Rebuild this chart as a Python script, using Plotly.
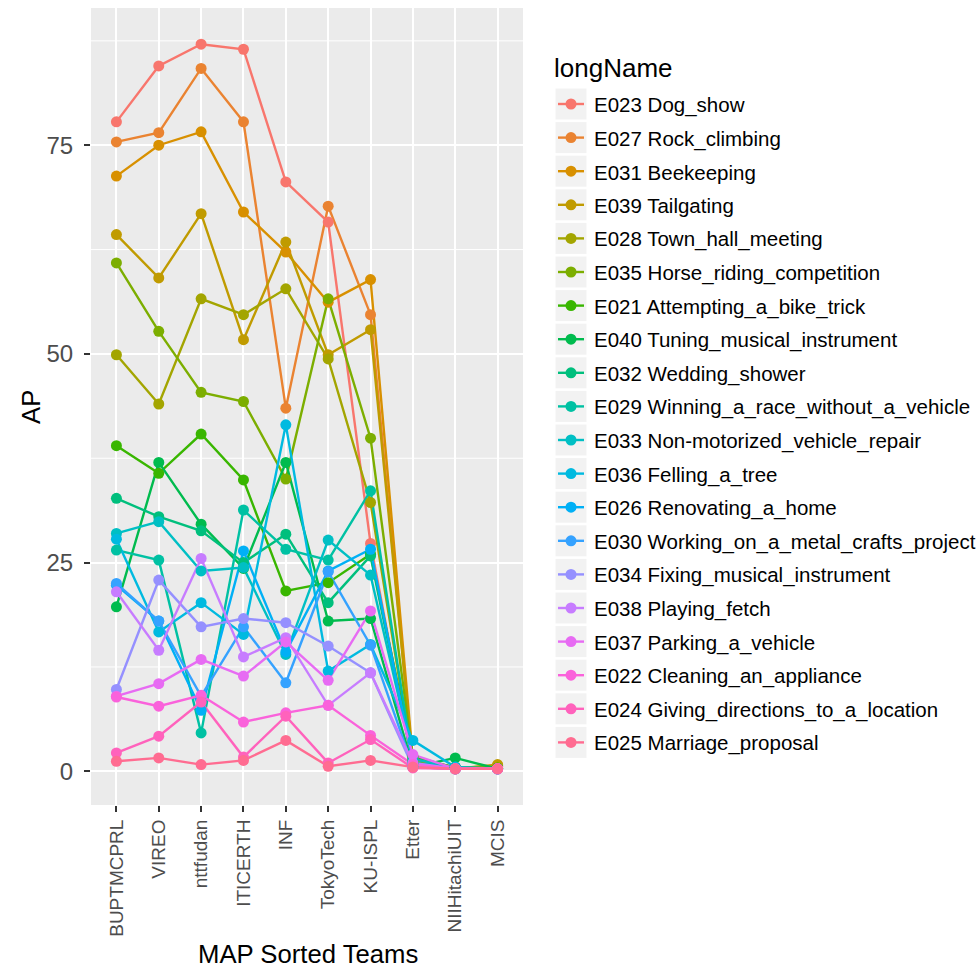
import plotly.graph_objects as go

teams = ["BUPTMCPRL", "VIREO", "nttfudan", "ITICERTH", "INF",
         "TokyoTech", "KU-ISPL", "Etter", "NIIHitachiUIT", "MCIS"]

event_names = [
    "E023 Dog_show", "E027 Rock_climbing", "E031 Beekeeping", "E039 Tailgating",
    "E028 Town_hall_meeting", "E035 Horse_riding_competition",
    "E021 Attempting_a_bike_trick", "E040 Tuning_musical_instrument",
    "E032 Wedding_shower", "E029 Winning_a_race_without_a_vehicle",
    "E033 Non-motorized_vehicle_repair", "E036 Felling_a_tree",
    "E026 Renovating_a_home", "E030 Working_on_a_metal_crafts_project",
    "E034 Fixing_musical_instrument", "E038 Playing_fetch",
    "E037 Parking_a_vehicle", "E022 Cleaning_an_appliance",
    "E024 Giving_directions_to_a_location", "E025 Marriage_proposal",
]

# AP per team, one list per event (team order as in `teams`)
ap_e023 = [77.8, 84.5, 87.1, 86.5, 70.6, 65.8, 27.3, 0.5, 0.3, 0.3]
ap_e027 = [75.4, 76.5, 84.2, 77.8, 43.5, 67.7, 54.7, 1.0, 0.3, 0.7]
ap_e031 = [71.3, 75.0, 76.6, 67.0, 62.2, 56.2, 58.9, 1.5, 0.4, 0.6]
ap_e039 = [64.3, 59.1, 66.8, 51.7, 63.4, 49.9, 52.9, 1.2, 0.3, 0.8]
ap_e028 = [49.9, 44.0, 56.6, 54.7, 57.8, 49.4, 32.2, 1.0, 0.3, 0.4]
ap_e035 = [60.9, 52.7, 45.4, 44.3, 35.0, 56.6, 39.9, 1.5, 0.5, 0.4]
ap_e021 = [39.0, 35.7, 40.4, 34.9, 21.6, 22.6, 26.0, 1.8, 0.4, 0.4]
ap_e040 = [19.7, 37.0, 29.6, 24.3, 37.0, 18.0, 18.3, 0.5, 1.6, 0.3]
ap_e032 = [32.7, 30.5, 28.8, 25.0, 28.4, 20.2, 25.8, 1.0, 0.5, 0.3]
ap_e029 = [26.5, 25.3, 4.6, 31.3, 26.6, 25.3, 33.6, 1.0, 0.4, 0.3]
ap_e033 = [28.5, 29.9, 24.0, 24.4, 14.0, 27.7, 23.5, 1.5, 0.4, 0.3]
ap_e036 = [27.8, 16.7, 20.2, 16.4, 41.5, 12.0, 15.2, 3.7, 0.5, 0.3]
ap_e026 = [22.3, 18.0, 7.3, 26.4, 14.3, 24.0, 26.6, 1.0, 0.3, 0.3]
ap_e030 = [22.5, 18.0, 9.0, 17.3, 10.6, 23.9, 15.1, 0.5, 0.3, 0.3]
ap_e034 = [9.8, 22.9, 17.3, 18.3, 17.8, 15.0, 11.8, 0.5, 0.3, 0.3]
ap_e038 = [21.5, 14.5, 25.5, 13.7, 16.0, 7.9, 11.8, 1.0, 0.3, 0.3]
ap_e037 = [9.0, 10.5, 13.4, 11.4, 15.5, 10.9, 19.2, 2.0, 0.3, 0.3]
ap_e022 = [8.9, 7.8, 9.1, 5.9, 7.0, 7.9, 4.3, 0.8, 0.3, 0.3]
ap_e024 = [2.2, 4.2, 8.3, 1.7, 6.6, 1.0, 3.8, 0.4, 0.3, 0.3]
ap_e025 = [1.2, 1.6, 0.8, 1.3, 3.7, 0.6, 1.3, 0.5, 0.3, 0.3]

series = [ap_e023, ap_e027, ap_e031, ap_e039, ap_e028, ap_e035, ap_e021,
          ap_e040, ap_e032, ap_e029, ap_e033, ap_e036, ap_e026, ap_e030,
          ap_e034, ap_e038, ap_e037, ap_e022, ap_e024, ap_e025]

colors = ["#F8766D", "#EA8331", "#D89000", "#C09B00", "#A3A500", "#7CAE00",
          "#39B600", "#00BB4E", "#00BF7D", "#00C1A3", "#00BFC4", "#00BAE0",
          "#00B0F6", "#35A2FF", "#9590FF", "#C77CFF", "#E76BF3", "#FA62DB",
          "#FF62BC", "#FF6C91"]

FONT = "Liberation Sans, Arial, Helvetica, sans-serif"
W, H = 979, 967
PL, PR, PT, PB = 91, 523, 8, 805  # panel box in pixels

fig = go.Figure()

# all lines first, then all points on top
for name, vals, col in zip(event_names, series, colors):
    fig.add_trace(go.Scatter(x=teams, y=vals, mode="lines", name=name,
                             line=dict(color=col, width=2.4),
                             showlegend=False, hoverinfo="skip"))
for name, vals, col in zip(event_names, series, colors):
    fig.add_trace(go.Scatter(x=teams, y=vals, mode="markers", name=name,
                             marker=dict(color=col, size=11),
                             showlegend=False))

# y range with 5% padding like ggplot's continuous scale
all_vals = [v for s in series for v in s]
lo, hi = min(all_vals), max(all_vals)
pad = (hi - lo) * 0.05
yr = [lo - pad, hi + pad]

# minor grid
shapes = []
for mv in [12.5, 37.5, 62.5, 87.5]:
    shapes.append(dict(type="line", xref="paper", yref="y", x0=0, x1=1,
                       y0=mv, y1=mv, line=dict(color="white", width=1),
                       layer="below"))


def px_x(px):
    return (px - PL) / (PR - PL)


def px_y(py):
    return (PB - py) / (PB - PT)


# legend drawn by hand: title, grey key boxes, line + dot, label
annotations = [
    dict(text="longName", x=px_x(552), y=px_y(68), xref="paper", yref="paper",
         xanchor="left", yanchor="middle", showarrow=False,
         font=dict(family=FONT, size=26, color="black")),
]
row0, step = 104, 33.6
for i, (name, col) in enumerate(zip(event_names, colors)):
    cy = row0 + i * step
    shapes.append(dict(type="rect", xref="paper", yref="paper",
                       x0=px_x(555.5), x1=px_x(586.5),
                       y0=px_y(cy - 15.5), y1=px_y(cy + 15.5),
                       fillcolor="#F2F2F2", line=dict(width=0)))
    shapes.append(dict(type="line", xref="paper", yref="paper",
                       x0=px_x(558), x1=px_x(584), y0=px_y(cy), y1=px_y(cy),
                       line=dict(color=col, width=2.4)))
    shapes.append(dict(type="circle", xref="paper", yref="paper",
                       x0=px_x(571 - 5.5), x1=px_x(571 + 5.5),
                       y0=px_y(cy - 5.5), y1=px_y(cy + 5.5),
                       fillcolor=col, line=dict(width=0)))
    annotations.append(dict(text=name, x=px_x(592), y=px_y(cy + 1),
                            xref="paper", yref="paper", xanchor="left",
                            yanchor="middle", showarrow=False,
                            font=dict(family=FONT, size=20.5, color="black")))

# axis titles
annotations.append(dict(text="MAP Sorted Teams", x=px_x(308), y=px_y(954),
                        xref="paper", yref="paper", xanchor="center",
                        yanchor="middle", showarrow=False,
                        font=dict(family=FONT, size=25.7, color="black")))
annotations.append(dict(text="AP", x=px_x(31), y=px_y(407), xref="paper",
                        yref="paper", xanchor="center", yanchor="middle",
                        textangle=-90, showarrow=False,
                        font=dict(family=FONT, size=25.7, color="black")))

fig.update_layout(
    width=W, height=H,
    margin=dict(l=PL, r=W - PR, t=PT, b=H - PB),
    paper_bgcolor="white", plot_bgcolor="#EBEBEB",
    font=dict(family=FONT),
    shapes=shapes, annotations=annotations,
    showlegend=False,
)
fig.update_xaxes(
    type="category", categoryorder="array", categoryarray=teams,
    range=[-0.6, len(teams) - 0.4],
    showgrid=True, gridcolor="white", gridwidth=2,
    ticks="outside", ticklen=6, tickwidth=2, tickcolor="#333333",
    tickangle=-90, tickfont=dict(family=FONT, size=19, color="#4D4D4D"),
    showline=False, zeroline=False,
)
fig.update_yaxes(
    range=yr, tickvals=[0, 25, 50, 75],
    showgrid=True, gridcolor="white", gridwidth=2,
    ticks="outside", ticklen=6, tickwidth=2, tickcolor="#333333",
    ticklabelstandoff=6,
    tickfont=dict(family=FONT, size=24, color="#4D4D4D"),
    showline=False, zeroline=False,
)

fig.write_html("out.html")
